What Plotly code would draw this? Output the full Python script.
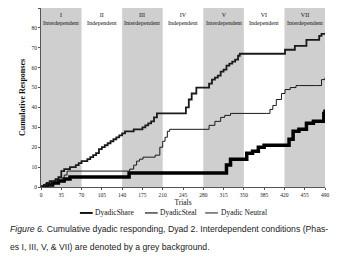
import plotly.graph_objects as go

# Phase boundaries and labels
phase_starts = [0, 70, 140, 210, 280, 350, 420]
phase_ends = [70, 140, 210, 280, 350, 420, 490]
phase_numerals = ["I", "II", "III", "IV", "V", "VI", "VII"]
phase_names = ["Interdependent", "Independent", "Interdependent", "Independent",
               "Interdependent", "Independent", "Interdependent"]
phase_grey = [True, False, True, False, True, False, True]

# DyadicSteal (top line)
steal_t = [0, 5, 10, 15, 20, 25, 30, 35, 40, 45, 50, 55, 60, 65, 70, 75, 80, 85, 90, 95, 100,
           105, 110, 115, 120, 125, 130, 135, 140, 145, 150, 160, 170, 175, 180, 185, 190, 195,
           200, 245, 250, 255, 260, 268, 286, 290, 295, 300, 305, 310, 315, 320, 325, 330, 335,
           340, 343, 421, 438, 458, 475, 480, 484, 490]
steal_v = [0, 1, 2, 3, 3, 4, 5, 8, 9, 9, 10, 10, 11, 12, 13, 13, 14, 15, 16, 17, 19,
           20, 21, 22, 23, 24, 25, 26, 27, 28, 28, 29, 29, 30, 31, 32, 33, 35,
           37, 37, 40, 44, 47, 50, 50, 52, 54, 55, 56, 58, 59, 61, 62, 63, 64,
           66, 67, 69, 71, 74, 74, 76, 77, 77]

# DyadicNeutral (middle line)
neutral_t = [0, 10, 20, 30, 40, 45, 150, 153, 160, 165, 170, 176, 185, 197, 205, 210, 214, 218,
             222, 283, 290, 300, 310, 317, 327, 389, 395, 400, 406, 415, 421, 430, 440, 446,
             475, 484, 490]
neutral_v = [0, 1, 3, 4, 6, 8, 8, 9, 11, 13, 14, 15, 15, 16, 20, 23, 25, 28,
             29, 29, 31, 33, 35, 36, 37, 37, 39, 41, 44, 47, 49, 50, 51, 51,
             51, 54, 55]

# DyadicShare (thick line)
share_t = [0, 10, 20, 30, 40, 50, 150, 152, 317, 320, 327, 352, 355, 365, 375, 385, 423, 428,
           435, 445, 458, 470, 484, 488, 490]
share_v = [0, 1, 2, 3, 4, 5, 5, 7, 7, 11, 14, 14, 17, 18, 20, 21, 21, 24,
           28, 29, 32, 33, 33, 37, 39]

series_names = ["DyadicShare", "DyadicSteal", "Dyadic Neutral"]

x_ticks = [0, 35, 70, 105, 140, 175, 210, 245, 280, 315, 350, 385, 420, 455, 490]
y_ticks = [0, 10, 20, 30, 40, 50, 60, 70, 80, 90]

serif = "Liberation Serif, Times New Roman, serif"
sans = "Liberation Sans, Arial, sans-serif"

fig = go.Figure()

shapes = []
for s, e, g in zip(phase_starts, phase_ends, phase_grey):
    if g:
        shapes.append(dict(type="rect", xref="x", yref="y", x0=s, x1=e, y0=0, y1=90,
                           fillcolor="#cfcfcf", line_width=0, layer="below"))

widths = [3.5, 1.8, 1.0]
colors = ["#000000", "#1a1a1a", "#1a1a1a"]
for t, v, nm, w, c in zip([share_t, steal_t, neutral_t], [share_v, steal_v, neutral_v],
                          series_names, widths, colors):
    fig.add_trace(go.Scatter(x=t, y=v, mode="lines", name=nm, showlegend=False,
                             line=dict(color=c, width=w, shape="hv")))

annotations = []
for s, e, num, name in zip(phase_starts, phase_ends, phase_numerals, phase_names):
    annotations.append(dict(x=(s + e) / 2, y=89, xref="x", yref="y",
                            text=f"{num}<br>{name}", showarrow=False, yanchor="top",
                            font=dict(family=serif, size=6, color="#111")))

# custom compact legend (line sample + label)
legend_x = [0.137, 0.366, 0.578]  # paper x of line sample start
legend_y = -0.145
for lx, nm, w, c in zip(legend_x, series_names, [1.8, 1.2, 1.0], colors):
    shapes.append(dict(type="line", xref="paper", yref="paper", x0=lx, x1=lx + 0.045,
                       y0=legend_y, y1=legend_y, line=dict(color=c, width=w)))
    annotations.append(dict(x=lx + 0.047, y=legend_y, xref="paper", yref="paper",
                            xanchor="left", yanchor="middle", showarrow=False, text=nm,
                            font=dict(family=serif, size=7.5, color="#111")))

annotations.append(dict(x=-0.116, y=-0.235, xref="paper", yref="paper", xanchor="left",
                        yanchor="middle", showarrow=False,
                        text="<i>Figure 6.</i> Cumulative dyadic responding, Dyad 2. Interdependent conditions (Phas-",
                        font=dict(family=sans, size=8.7, color="#222")))
annotations.append(dict(x=-0.116, y=-0.335, xref="paper", yref="paper", xanchor="left",
                        yanchor="middle", showarrow=False,
                        text="es I, III, V, &amp; VII) are denoted by a grey background.",
                        font=dict(family=sans, size=8.7, color="#222")))

fig.update_layout(
    width=334, height=252,
    margin=dict(l=33, r=17, t=0, b=73),
    paper_bgcolor="white", plot_bgcolor="white",
    shapes=shapes, annotations=annotations,
    showlegend=False,
    xaxis=dict(range=[0, 490], tickvals=x_ticks, ticks="outside", ticklen=2, tickcolor="#555",
               showline=True, linecolor="#555", linewidth=1, showgrid=False, zeroline=False,
               tickfont=dict(family=serif, size=5.5, color="#222"),
               title=dict(text="Trials", font=dict(family=serif, size=7.5, color="#111"), standoff=2)),
    yaxis=dict(range=[0, 90], tickvals=y_ticks, ticks="outside", ticklen=2, tickcolor="#555",
               showline=True, linecolor="#555", linewidth=1, showgrid=False, zeroline=False,
               tickfont=dict(family=serif, size=5.5, color="#222"),
               title=dict(text="<b>Cumulative Responses</b>", font=dict(family=serif, size=8, color="#111"), standoff=4)),
)

fig.write_html("out.html")
